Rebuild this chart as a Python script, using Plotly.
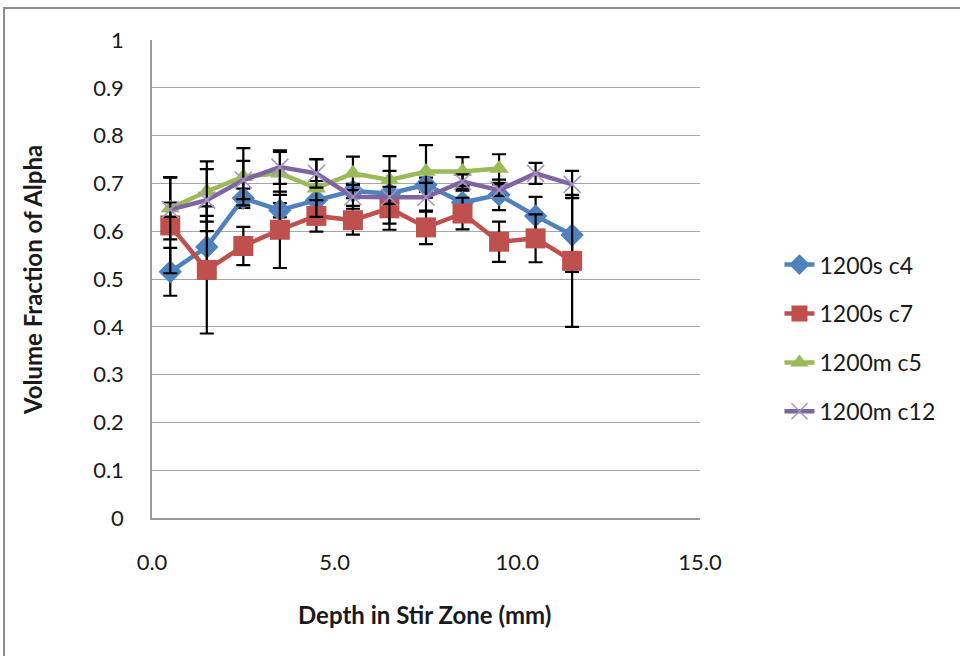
import plotly.graph_objects as go

depth = [0.5, 1.5, 2.5, 3.5, 4.5, 5.5, 6.5, 7.5, 8.5, 9.5, 10.5, 11.5]

s_c4 = [0.515, 0.567, 0.669, 0.644, 0.665, 0.684, 0.679, 0.697, 0.660, 0.676, 0.632, 0.592]
s_c4_err = [0.050, 0.065, 0.020, 0.015, 0.040, 0.015, 0.030, 0.015, 0.025, 0.032, 0.040, 0.077]

s_c7 = [0.612, 0.519, 0.569, 0.603, 0.632, 0.623, 0.648, 0.608, 0.637, 0.578, 0.585, 0.538]
s_c7_err = [0.100, 0.133, 0.040, 0.080, 0.033, 0.030, 0.045, 0.035, 0.033, 0.042, 0.050, 0.138]

m_c5 = [0.648, 0.683, 0.714, 0.721, 0.690, 0.721, 0.707, 0.725, 0.725, 0.731]
m_c5_err = [0.065, 0.063, 0.060, 0.045, 0.060, 0.035, 0.050, 0.055, 0.030, 0.030]

m_c12 = [0.645, 0.665, 0.707, 0.734, 0.721, 0.672, 0.671, 0.671, 0.704, 0.686, 0.721, 0.698]
m_c12_err = [0.015, 0.065, 0.040, 0.035, 0.030, 0.025, 0.055, 0.030, 0.015, 0.012, 0.022, 0.028]

names = ["1200s c4", "1200s c7", "1200m c5", "1200m c12"]
colors = ["#4F81BD", "#C0504D", "#9BBB59", "#8064A2"]
symbols = ["diamond", "square", "triangle-up", "x-thin-open"]
sizes = [18, 20, 17, 17]

series = [(s_c4, s_c4_err), (s_c7, s_c7_err), (m_c5, m_c5_err), (m_c12, m_c12_err)]

FONT = "Lato, Open Sans, sans-serif"

fig = go.Figure()
for i, (vals, errs) in enumerate(series):
    marker = dict(symbol=symbols[i], size=sizes[i], color=colors[i])
    if symbols[i] == "x-thin-open":
        marker["line"] = dict(width=1.5, color="#A593C4")
        marker["color"] = "#A593C4"
    fig.add_trace(go.Scatter(
        x=depth[:len(vals)], y=vals, name=names[i],
        mode="lines+markers",
        line=dict(color=colors[i], width=4.5),
        marker=marker,
        legendgroup=names[i],
        error_y=dict(type="data", array=errs, visible=True,
                     color="black", thickness=2.2, width=7),
    ))

fig.update_layout(
    width=960, height=656,
    margin=dict(l=152, r=260, t=40, b=138),
    paper_bgcolor="white", plot_bgcolor="white",
    font=dict(family=FONT, size=22, color="#1a1a1a"),
    showlegend=True,
    legend=dict(x=1.145, y=0.575, xanchor="left", yanchor="top",
                font=dict(size=23, color="#1a1a1a"),
                tracegroupgap=16, bgcolor="rgba(0,0,0,0)"),
    xaxis=dict(range=[0, 15], dtick=5, tickformat=".1f", showgrid=False,
               zeroline=False, showline=True, linecolor="#999", linewidth=1.5,
               ticks="", ticklabelstandoff=24, tickfont=dict(size=22)),
    yaxis=dict(range=[0, 1], dtick=0.1, showgrid=True, gridcolor="#A6A6A6",
               gridwidth=1, zeroline=False, showline=True, linecolor="#999",
               linewidth=1.5, ticks="", ticklabelstandoff=22,
               tickfont=dict(size=22)),
    annotations=[
        dict(text="<b>Depth in Stir Zone (mm)</b>", xref="paper", yref="paper",
             x=0.498, y=-0.201, xanchor="center", yanchor="middle",
             showarrow=False, font=dict(size=24, color="#1a1a1a")),
        dict(text="<b>Volume Fraction of Alpha</b>", xref="paper", yref="paper",
             x=-0.217, y=0.498, xanchor="center", yanchor="middle",
             textangle=-90, showarrow=False, font=dict(size=24, color="#1a1a1a")),
    ],
    shapes=[
        dict(type="rect", xref="paper", yref="paper",
             x0=-0.270, x1=1.49, y0=-0.30, y1=1.067,
             line=dict(color="#8C8C8C", width=2), layer="below"),
    ],
)

fig.write_html("out.html")
